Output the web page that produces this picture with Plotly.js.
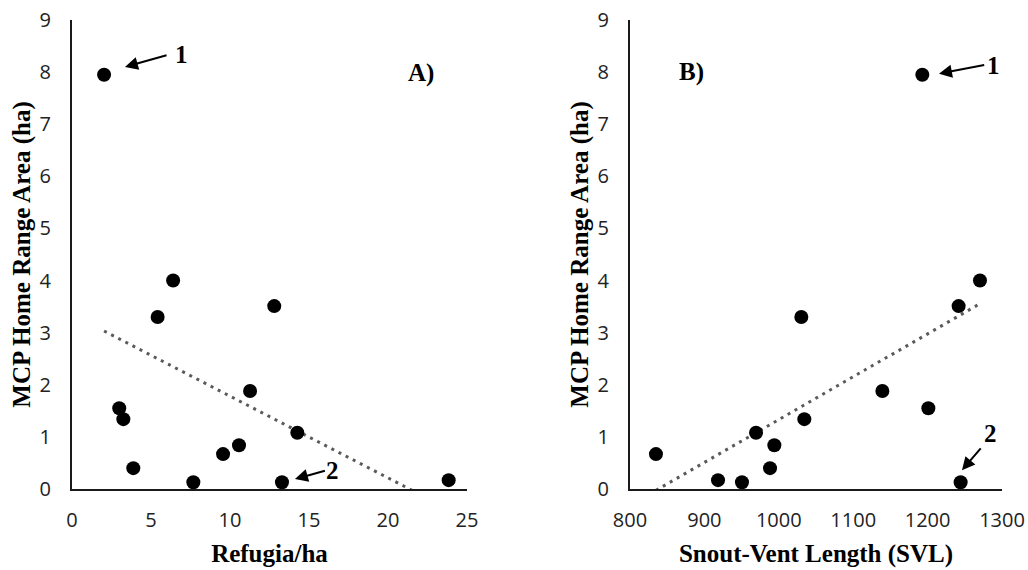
<!DOCTYPE html>
<html>
<head>
<meta charset="utf-8">
<script src="https://cdn.plot.ly/plotly-3.0.1.min.js"></script>
<style>html,body{margin:0;padding:0;background:#fff;}#chart{width:1028px;height:570px;}</style>
</head>
<body>
<div id="chart"></div>
<script>
// Panel A: Refugia/ha vs MCP home range area (ha)
const refugiaPerHa = [2.03, 6.4, 5.42, 12.8, 11.27, 2.99, 3.25, 14.26, 10.57, 9.56, 3.88, 7.68, 13.29, 23.84];
const areaA        = [7.95, 4.0, 3.30, 3.51, 1.88, 1.55, 1.34, 1.08, 0.84, 0.67, 0.40, 0.13, 0.13, 0.17];
// Panel B: Snout-vent length vs MCP home range area (ha)
const svl          = [1192.9, 1270.4, 834.9, 918.3, 950.5, 969.4, 994.0, 988.2, 1030.3, 1034.3, 1139.2, 1201.0, 1241.7, 1244.4];
const areaB        = [7.95, 4.0, 0.67, 0.17, 0.13, 1.08, 0.84, 0.40, 3.30, 1.34, 1.88, 1.55, 3.51, 0.13];
const yTicks = [0,1,2,3,4,5,6,7,8,9];
const xTicksA = [0,5,10,15,20,25];
const xTicksB = [800,900,1000,1100,1200,1300];

function linFit(xs, ys){
  const n = xs.length;
  const mx = xs.reduce((a,b)=>a+b,0)/n, my = ys.reduce((a,b)=>a+b,0)/n;
  let sxy=0, sxx=0;
  for(let i=0;i<n;i++){sxy+=(xs[i]-mx)*(ys[i]-my); sxx+=(xs[i]-mx)*(xs[i]-mx);}
  const m = sxy/sxx, b = my - m*mx;
  const x0 = Math.min(...xs), x1 = Math.max(...xs);
  return {x:[x0,x1], y:[m*x0+b, m*x1+b]};
}
const fitA = linFit(refugiaPerHa, areaA);
const fitB = linFit(svl, areaB);

const trendLine = {color:'#5a5a5a', width:3, dash:'3px,5px'};
const marker = {color:'#000', size:14};

const traces = [
  {x:fitA.x, y:fitA.y, mode:'lines', line:trendLine, xaxis:'x', yaxis:'y', hoverinfo:'skip'},
  {x:refugiaPerHa, y:areaA, mode:'markers', marker:marker, xaxis:'x', yaxis:'y'},
  {x:fitB.x, y:fitB.y, mode:'lines', line:trendLine, xaxis:'x2', yaxis:'y2', hoverinfo:'skip'},
  {x:svl, y:areaB, mode:'markers', marker:marker, xaxis:'x2', yaxis:'y2'}
];

const tickFont = {family:'"Open Sans", sans-serif', size:20, color:'#222'};
const titleFont = {family:'"Liberation Serif", "Times New Roman", serif', size:25, color:'#000', weight:'bold'};
const annFont = {family:'"Liberation Serif", "Times New Roman", serif', size:25, color:'#000', weight:'bold'};

function xAx(domain, range, ticks, title, anchor){
  return {domain:domain, range:range, tickvals:ticks, ticktext:ticks.map(String), showgrid:false, zeroline:false,
    showline:true, linecolor:'#1a1a1a', linewidth:2, ticks:'', tickfont:tickFont, ticklabelstandoff:12,
    anchor:anchor, fixedrange:true, title:{text:title, font:titleFont, standoff:12}};
}
function yAx(range, anchor){
  return {domain:[0,1], range:range, tickvals:yTicks, ticktext:yTicks.map(String), showgrid:false, zeroline:false,
    showline:true, linecolor:'#1a1a1a', linewidth:2, ticks:'', tickfont:tickFont, ticklabelstandoff:15,
    anchor:anchor, fixedrange:true, title:{text:'MCP Home Range Area (ha)', font:titleFont, standoff:2}};
}

function arrow(xr, yr, tipX, tipY, tailX, tailY){
  return {xref:xr, yref:yr, axref:xr, ayref:yr, x:tipX, y:tipY, ax:tailX, ay:tailY, text:'',
    showarrow:true, arrowhead:2, arrowsize:1.3, arrowwidth:2, arrowcolor:'#000', standoff:0, startstandoff:0};
}
function label(xr, yr, x, y, t){
  return {xref:xr, yref:yr, x:x, y:y, text:t, showarrow:false, font:annFont, xanchor:'center', yanchor:'middle'};
}

const layout = {
  width:1028, height:570,
  margin:{l:72, r:26, t:20, b:81},
  paper_bgcolor:'#fff', plot_bgcolor:'#fff',
  showlegend:false,
  xaxis: xAx([0, 0.42473], [0,25], xTicksA, 'Refugia/ha', 'y'),
  yaxis: yAx([0,9], 'x'),
  xaxis2: xAx([0.6, 1], [800,1300], xTicksB, 'Snout-Vent Length (SVL)', 'y2'),
  yaxis2: yAx([0,9], 'x2'),
  annotations:[
    label('x','y', 22.1, 7.98, 'A)'),
    label('x','y', 6.9, 8.33, '1'),
    arrow('x','y', 3.35, 8.10, 6.08, 8.33),
    label('x','y', 16.5, 0.36, '2'),
    arrow('x','y', 14.11, 0.19, 16.1, 0.36),
    label('x2','y2', 883.3, 8.0, 'B)'),
    label('x2','y2', 1289.2, 8.12, '1'),
    arrow('x2','y2', 1215.3, 7.97, 1278.1, 8.14),
    label('x2','y2', 1283.9, 1.07, '2'),
    arrow('x2','y2', 1246.2, 0.36, 1273.1, 0.81)
  ]
};

Plotly.newPlot('chart', traces, layout, {displayModeBar:false, staticPlot:true});
</script>
</body>
</html>
